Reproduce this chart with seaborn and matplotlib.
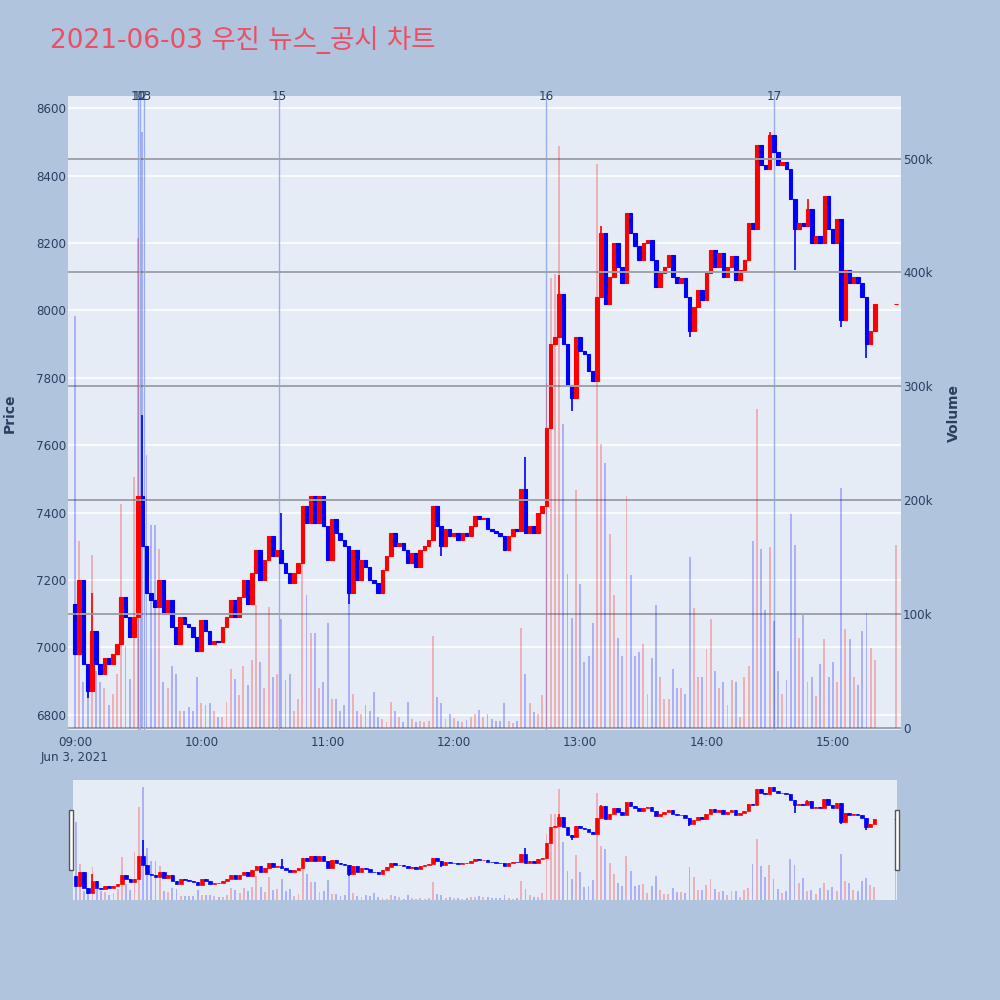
import pandas as pd
import numpy as np
import matplotlib
matplotlib.use("Agg")
import matplotlib.pyplot as plt
from matplotlib.ticker import FuncFormatter
from matplotlib.patches import Rectangle
import matplotlib.transforms as mtransforms
import seaborn as sns

# 차트 데이터 (그림에서 읽은 값, 2분 간격)
title = "2021-06-03 우진 뉴스_공시 차트"
day = "2021-06-03"
first_open = 7130
closes = [
    6980, 7200, 6950, 6870, 7050, 6950, 6920, 6970, 6950, 6980,
    7010, 7150, 7090, 7030, 7090, 7450, 7300, 7160, 7140, 7120,
    7200, 7100, 7140, 7060, 7010, 7090, 7070, 7060, 7030, 6990,
    7080, 7050, 7010, 7020, 7015, 7060, 7090, 7140, 7090, 7150,
    7200, 7130, 7220, 7290, 7200, 7260, 7330, 7270, 7290, 7250,
    7220, 7190, 7220, 7250, 7420, 7370, 7450, 7370, 7450, 7360,
    7260, 7380, 7340, 7320, 7300, 7160, 7290, 7200, 7260, 7240,
    7200, 7190, 7160, 7230, 7270, 7340, 7300, 7310, 7290, 7250,
    7280, 7240, 7290, 7300, 7320, 7420, 7360, 7300, 7350, 7330,
    7340, 7320, 7340, 7330, 7360, 7390, 7380, 7385, 7350, 7345,
    7340, 7330, 7290, 7330, 7350, 7345, 7470, 7340, 7360, 7340,
    7400, 7420, 7650, 7900, 7920, 8050, 7900, 7780, 7740, 7920,
    7880, 7870, 7820, 7790, 8040, 8230, 8020, 8100, 8200, 8130,
    8080, 8290, 8230, 8190, 8150, 8200, 8210, 8150, 8070, 8110,
    8130, 8165, 8100, 8080, 8095, 8040, 7940, 8010, 8060, 8030,
    8110, 8180, 8130, 8170, 8100, 8130, 8160, 8090, 8120, 8150,
    8260, 8240, 8490, 8430, 8420, 8520, 8470, 8430, 8440, 8420,
    8330, 8240, 8260, 8250, 8300, 8200, 8220, 8200, 8340, 8240,
    8200, 8270, 7970, 8120, 8080, 8100, 8080, 8040, 7900, 7940,
    8020,
]
volumes_k = [
    362, 164, 40, 45, 152, 50, 40, 35, 20, 30,
    47, 197, 72, 43, 220, 430, 523, 240, 178, 178,
    157, 40, 35, 54, 47, 15, 15, 18, 15, 45,
    22, 20, 22, 15, 10, 10, 23, 52, 43, 29,
    54, 38, 60, 108, 58, 35, 106, 45, 47, 96,
    42, 47, 15, 25, 145, 117, 83, 83, 35, 40,
    92, 25, 25, 15, 20, 110, 30, 15, 12, 20,
    15, 32, 10, 8, 5, 23, 15, 10, 5, 23,
    8, 5, 6, 5, 6, 81, 27, 22, 8, 12,
    9, 6, 5, 7, 10, 12, 16, 10, 12, 8,
    6, 6, 22, 6, 4, 6, 88, 47, 22, 14,
    12, 29, 303, 395, 399, 511, 267, 135, 97, 209,
    126, 58, 63, 92, 495, 249, 233, 170, 117, 79,
    63, 204, 134, 63, 67, 74, 30, 61, 108, 45,
    25, 25, 52, 35, 35, 30, 150, 105, 45, 45,
    69, 96, 50, 35, 40, 20, 42, 40, 10, 45,
    54, 164, 280, 157, 104, 159, 94, 50, 30, 42,
    188, 161, 79, 99, 40, 45, 28, 56, 78, 45,
    58, 40, 211, 87, 78, 45, 38, 85, 101, 70,
    60,
]
# 장 마감 동시호가
auction_time = "15:30"
auction_price = 8020
auction_volume_k = 161

# 꼬리 (고가/저가)
spike_times = ["09:06", "09:08", "09:32", "10:38", "11:10", "11:54", "12:34", "12:50",
               "12:56", "13:10", "13:52", "14:30", "14:42", "14:48", "15:04", "15:16"]
spike_prices = [6850, 7160, 7690, 7400, 7130, 7270, 7565, 8105,
                7700, 8250, 7920, 8530, 8120, 8330, 7950, 7860]

# 뉴스/공시 번호와 시각
news_labels = ["10", "12", "13", "15", "16", "17"]
news_times = ["09:30", "09:31", "09:33", "10:37", "12:44", "14:32"]

hour_labels = ["09:00", "10:00", "11:00", "12:00", "13:00", "14:00", "15:00"]
date_label = "Jun 3, 2021"
price_ticks = [6800, 7000, 7200, 7400, 7600, 7800, 8000, 8200, 8400, 8600]
volume_ticks_k = [0, 100, 200, 300, 400, 500]

PAPER_BG = "#B0C4DE"
PLOT_BG = "#E5ECF6"
INC = "#FF0000"
DEC = "#0000FF"
TXT = "#2a3f5f"

sns.set_theme(style="white", rc={"axes.facecolor": PLOT_BG, "figure.facecolor": PAPER_BG})
plt.rcParams["font.family"] = ["DejaVu Sans", "Noto Sans CJK KR"]

# 데이터프레임 구성
times = pd.date_range(f"{day} 09:00", periods=len(closes), freq="2min")
times = times.append(pd.DatetimeIndex([pd.Timestamp(f"{day} {auction_time}")]))
close_all = closes + [auction_price]
open_all = [first_open] + closes[:-1] + [auction_price]
df = pd.DataFrame({"time": times, "open": open_all, "close": close_all,
                   "volume": volumes_k + [auction_volume_k]})
df["high"] = df[["open", "close"]].max(axis=1)
df["low"] = df[["open", "close"]].min(axis=1)
for t, p in zip(spike_times, spike_prices):
    i = df.index[df["time"] == pd.Timestamp(f"{day} {t}")][0]
    if p > df.at[i, "high"]:
        df.at[i, "high"] = p
    else:
        df.at[i, "low"] = min(df.at[i, "low"], p)
df["color"] = np.where(df["close"] >= df["open"], INC, DEC)

t0 = pd.Timestamp(f"{day} 09:00")
MIN = 1 / 1440


def draw(ax, axv, lw=0.8):
    ax.vlines(df["time"], df["low"], df["high"], colors=df["color"], linewidth=1.2, zorder=3)
    ax.bar(df["time"], df["close"] - df["open"], bottom=df["open"], width=1.7 * MIN,
           color=df["color"], edgecolor=df["color"], linewidth=lw, zorder=3)
    axv.bar(df["time"], df["volume"], width=0.9 * MIN, color=df["color"], alpha=0.25,
            linewidth=0, zorder=2)
    ax.set_ylim(6755, 8636)
    axv.set_ylim(-1.8, 555)
    for a in (ax, axv):
        for s in a.spines.values():
            s.set_visible(False)


fig = plt.figure(figsize=(10, 10), dpi=100)

# 메인 차트
ax = fig.add_axes([0.068, 0.27, 0.833, 0.634])
axv = ax.twinx()
ax.grid(axis="y", color="white", linewidth=1.1)
ax.grid(axis="x", visible=False)
axv.grid(axis="y", color="#A0A3AB", linewidth=1.4)
axv.grid(axis="x", visible=False)
draw(ax, axv)

trans = mtransforms.blended_transform_factory(ax.transData, ax.transAxes)
for lab, t in zip(news_labels, news_times):
    ts = pd.Timestamp(f"{day} {t}")
    ax.axvline(ts, color="#7F98E8", alpha=0.75, linewidth=1, zorder=2)
    ax.text(ts, 1.0, lab, transform=trans, ha="center", va="center", fontsize=8.6, color=TXT)

ax.set_xlim(t0 - pd.Timedelta(minutes=3.3), t0 + pd.Timedelta(minutes=392.4))
hour_ts = [pd.Timestamp(f"{day} {h}") for h in hour_labels]
ax.set_xticks(hour_ts)
ax.set_xticklabels([hour_labels[0] + "\n" + date_label] + hour_labels[1:])
ax.set_yticks(price_ticks)
ax.set_yticklabels([str(v) for v in price_ticks])
axv.set_yticks(volume_ticks_k)
axv.yaxis.set_major_formatter(FuncFormatter(lambda v, p: "0" if v == 0 else f"{int(v)}k"))
ax.tick_params(axis="x", length=0, pad=4.5, labelsize=8.6, colors=TXT)
ax.tick_params(axis="y", length=0, pad=1.5, labelsize=8.6, colors=TXT)
axv.tick_params(axis="y", length=0, pad=1.5, labelsize=8.6, colors=TXT)

fig.text(0.05, 0.96, title, fontsize=19, color="#EB4F66", ha="left", va="center")
fig.text(0.010, 0.587, "Price", rotation=90, fontsize=10, fontweight="bold", color=TXT,
         ha="center", va="center")
fig.text(0.954, 0.587, "Volume", rotation=90, fontsize=10, fontweight="bold", color=TXT,
         ha="center", va="center")

# 레인지 슬라이더
axs = fig.add_axes([0.0727, 0.10, 0.8238, 0.12])
axs.set_facecolor(PLOT_BG)
axsv = axs.twinx()
draw(axs, axsv, lw=0.5)
axs.set_xlim(t0 - pd.Timedelta(minutes=1.4), t0 + pd.Timedelta(minutes=390.5))
for a in (axs, axsv):
    a.set_xticks([])
    a.set_yticks([])
    a.grid(False)

for hx in (0.069, 0.895):
    fig.patches.append(Rectangle((hx, 0.13), 0.004, 0.06, transform=fig.transFigure,
                                 facecolor="white", edgecolor="#555555", linewidth=1))

fig.savefig("out.png", dpi=100, facecolor=PAPER_BG)
